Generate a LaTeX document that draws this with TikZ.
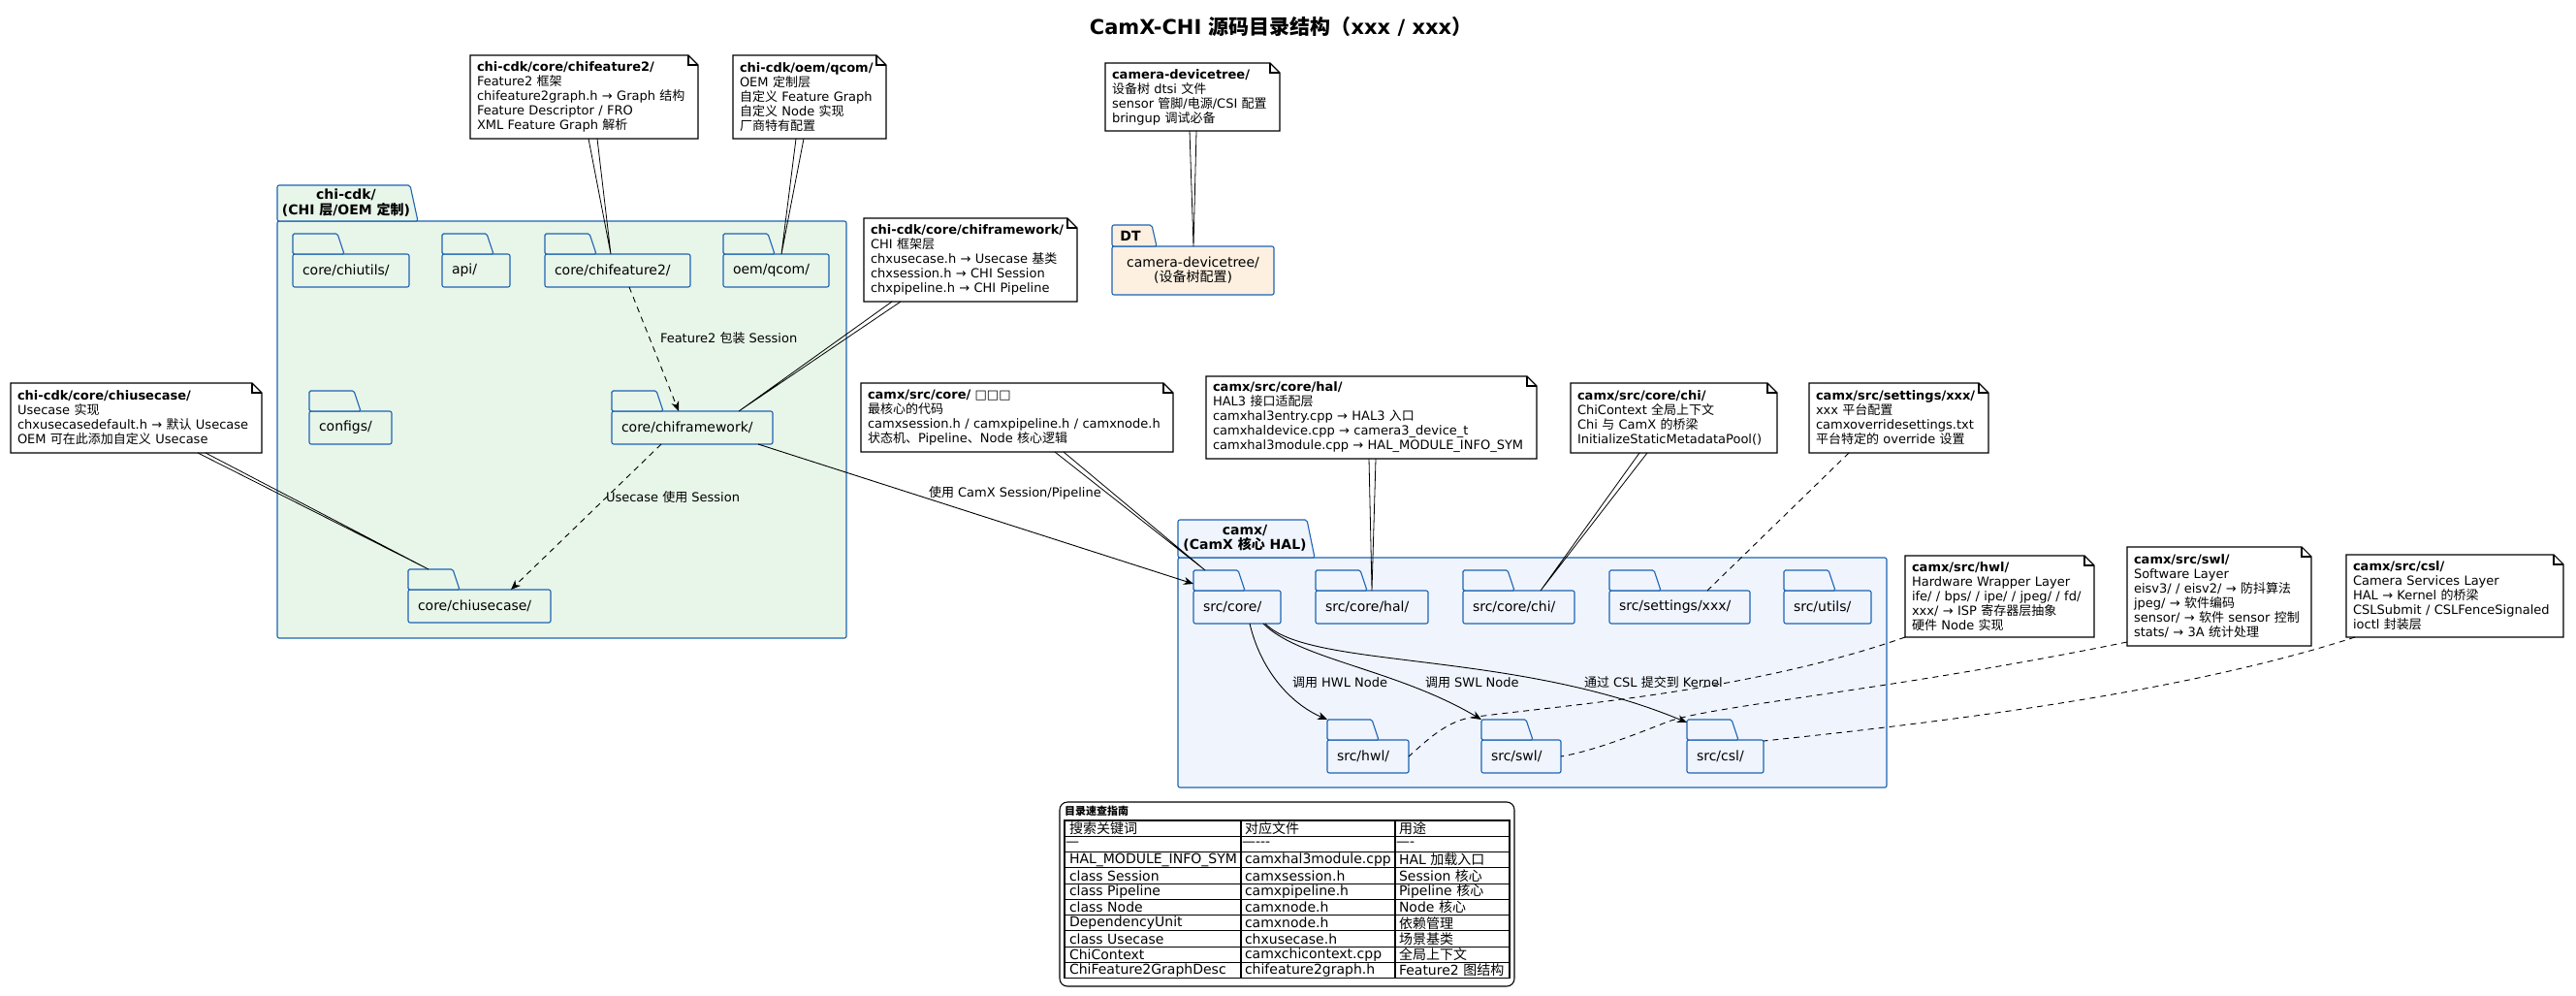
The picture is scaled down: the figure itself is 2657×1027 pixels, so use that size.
\documentclass[tikz,border=0pt]{standalone}
\usepackage{fontspec}
\setmainfont{DejaVu Sans}
\newfontfamily\cjkfont{Noto Sans CJK SC}
\usetikzlibrary{calc,arrows.meta}
% automatic switch to the CJK font for CJK characters
\XeTeXinterchartokenstate=1
\chardef\cjkcls=7
\newcount\cjkc
\cjkc="3000
\loop \XeTeXcharclass\cjkc=\cjkcls \advance\cjkc by 1 \ifnum\cjkc<"A000 \repeat
\cjkc="FF00
\loop \XeTeXcharclass\cjkc=\cjkcls \advance\cjkc by 1 \ifnum\cjkc<"FFF0 \repeat
\XeTeXinterchartoks 0 \cjkcls = {\begingroup\cjkfont}
\XeTeXinterchartoks 4095 \cjkcls = {\begingroup\cjkfont}
\XeTeXinterchartoks \cjkcls 0 = {\endgroup}
\XeTeXinterchartoks \cjkcls 4095 = {\endgroup}

\definecolor{pgreen}{HTML}{E8F5E9}
\definecolor{pblue}{HTML}{EFF4FD}
\definecolor{porange}{HTML}{FDF0E1}
\definecolor{bblue}{HTML}{1E64B4}

\tikzset{
  every node/.style={inner sep=0pt, outer sep=0pt},
  pkgline/.style={draw=bblue, line width=1.1pt},
  folderbody/.style={draw=bblue, line width=1.1pt, rounded corners=2pt, minimum height=34pt,
    inner xsep=10pt, inner ysep=0pt, align=left, font=\fontsize{14}{16}\selectfont, anchor=north west},
  notebox/.style={inner xsep=7pt, inner ysep=0pt, align=left, font=\fontsize{13}{15}\selectfont, anchor=north west},
  noteline/.style={draw=black, line width=1.1pt, line join=miter},
  wedge/.style={draw=black, line width=0.8pt},
  dconn/.style={draw=black, line width=0.9pt, dash pattern=on 6pt off 5pt},
  arr/.style={draw=black, line width=0.9pt, -{Stealth[length=10pt,width=8pt,inset=3pt]}},
  darr/.style={arr, dash pattern=on 6pt off 5pt},
  lbl/.style={font=\fontsize{13}{15}\selectfont, anchor=west},
  tablbl/.style={font=\bfseries\fontsize{14}{16.5}\selectfont, align=center},
  cell/.style={font=\fontsize{14}{16}\selectfont, anchor=west},
  gridline/.style={draw=black, line width=1.1pt},
}

\newcommand\mkfolder[6]{% name, x, body top y, width, fill, label
  \pgfmathsetmacro\fldw{#4-20}%
  \node[folderbody, fill=#5, text width=\fldw pt, minimum width=#4pt] (#1) at (#2,#3) {#6};
  \draw[pkgline, fill=#5, rounded corners=1.5pt] (#1.north west) -- ++(0,-21) -- ++(46,0) -- ++(7,21) -- cycle;
}
\newcommand\mknote[6]{% name, x, y, width, height, text
  \pgfmathsetmacro\ntw{#4-14}%
  \node[notebox, text width=\ntw pt, minimum height=#5pt] (#1) at (#2,#3) {#6};
  \draw[noteline] (#1.north west) -- ([xshift=-10pt]#1.north east) -- ([yshift=-10pt]#1.north east)
     -- (#1.south east) -- (#1.south west) -- cycle;
  \draw[noteline] ([xshift=-10pt]#1.north east) -- ([xshift=-10pt,yshift=-10pt]#1.north east) -- ([yshift=-10pt]#1.north east);
}
\newcommand\cellrow[4]{%
  \node[cell] (c#1a) at (1103,{846+16.27*(#1+0.5)}) {#2};
  \node[cell] (c#1b) at (1284,{846+16.27*(#1+0.5)}) {#3};
  \node[cell] (c#1c) at (1443,{846+16.27*(#1+0.5)}) {#4};
}

\begin{document}
\begin{tikzpicture}[x=1pt,y=-1pt]
\path[use as bounding box, fill=white] (0,0) rectangle (2657,1027);

% title
\node[font=\bfseries\fontsize{21}{24}\selectfont] (title) at (1321,28) {CamX-CHI 源码目录结构（xxx / xxx）};

% ---------- packages ----------
\node[pkgline, fill=pgreen, rounded corners=2pt, minimum width=587pt, minimum height=430pt, anchor=north west] (pchi) at (286,228) {};
\draw[pkgline, fill=pgreen, rounded corners=2pt] (pchi.north west) -- ++(0,-37) -- ++(137,0) -- ++(8,37) -- cycle;
\node[tablbl] (tchi) at (357,209) {chi-cdk/\\(CHI 层/OEM 定制)};

\node[pkgline, fill=pblue, rounded corners=2pt, minimum width=731pt, minimum height=237pt, anchor=north west] (pcamx) at (1215,575) {};
\draw[pkgline, fill=pblue, rounded corners=2pt] (pcamx.north west) -- ++(0,-39) -- ++(133,0) -- ++(8,39) -- cycle;
\node[tablbl, font=\bfseries\fontsize{14}{15.5}\selectfont] (tcamx) at (1284,555) {camx/\\(CamX 核心 HAL)};

\node[pkgline, fill=porange, rounded corners=2pt, minimum width=167pt, minimum height=50pt, anchor=north west,
      align=center, font=\fontsize{14}{15}\selectfont] (pdt) at (1147,254) {camera-devicetree/\\(设备树配置)};
\draw[pkgline, fill=porange, rounded corners=2pt] (pdt.north west) -- ++(0,-22) -- ++(41,0) -- ++(5,22) -- cycle;
\node[tablbl] (tdt) at (1166,243) {DT};

% ---------- folders ----------
\mkfolder{fchiutils}{302}{262}{120}{pgreen}{core/chiutils/}
\mkfolder{fapi}{456}{262}{70}{pgreen}{api/}
\mkfolder{ffeat}{562}{262}{150}{pgreen}{core/chifeature2/}
\mkfolder{foem}{746}{262}{109}{pgreen}{oem/qcom/}
\mkfolder{fconfigs}{319}{424}{85}{pgreen}{configs/}
\mkfolder{ffw}{631}{424}{166}{pgreen}{core/chiframework/}
\mkfolder{fuse}{421}{608}{147}{pgreen}{core/chiusecase/}

\mkfolder{score}{1231}{609}{90}{pblue}{src/core/}
\mkfolder{shal}{1357}{609}{116}{pblue}{src/core/hal/}
\mkfolder{schi}{1509}{609}{115}{pblue}{src/core/chi/}
\mkfolder{sset}{1660}{609}{145}{pblue}{src/settings/xxx/}
\mkfolder{sutil}{1840}{609}{90}{pblue}{src/utils/}
\mkfolder{shwl}{1369}{763}{84}{pblue}{src/hwl/}
\mkfolder{sswl}{1528}{763}{82}{pblue}{src/swl/}
\mkfolder{scsl}{1740}{763}{79}{pblue}{src/csl/}

% ---------- notes ----------
\mknote{nfeat}{485}{57}{235}{86}{\textbf{chi-cdk/core/chifeature2/}\\Feature2 框架\\chifeature2graph.h → Graph 结构\\Feature Descriptor / FRO\\XML Feature Graph 解析}
\mknote{noem}{756}{57}{158}{86}{\textbf{chi-cdk/oem/qcom/}\\OEM 定制层\\自定义 Feature Graph\\自定义 Node 实现\\厂商特有配置}
\mknote{ndt}{1140}{65}{180}{70}{\textbf{camera-devicetree/}\\设备树 dtsi 文件\\sensor 管脚/电源/CSI 配置\\bringup 调试必备}
\mknote{nfw}{891}{225}{220}{86}{\textbf{chi-cdk/core/chiframework/}\\CHI 框架层\\chxusecase.h → Usecase 基类\\chxsession.h → CHI Session\\chxpipeline.h → CHI Pipeline}
\mknote{nuse}{11}{395}{259}{72}{\textbf{chi-cdk/core/chiusecase/}\\Usecase 实现\\chxusecasedefault.h → 默认 Usecase\\OEM 可在此添加自定义 Usecase}
\mknote{ncore}{888}{395}{322}{71}{\textbf{camx/src/core/ □□□}\\最核心的代码\\camxsession.h / camxpipeline.h / camxnode.h\\状态机、Pipeline、Node 核心逻辑}
\mknote{nhal}{1244}{388}{341}{85}{\textbf{camx/src/core/hal/}\\HAL3 接口适配层\\camxhal3entry.cpp → HAL3 入口\\camxhaldevice.cpp → camera3\_device\_t\\camxhal3module.cpp → HAL\_MODULE\_INFO\_SYM}
\mknote{nchi}{1620}{395}{213}{72}{\textbf{camx/src/core/chi/}\\ChiContext 全局上下文\\Chi 与 CamX 的桥梁\\InitializeStaticMetadataPool()}
\mknote{nset}{1866}{395}{185}{72}{\textbf{camx/src/settings/xxx/}\\xxx 平台配置\\camxoverridesettings.txt\\平台特定的 override 设置}
\mknote{nhwl}{1965}{573}{195}{84}{\textbf{camx/src/hwl/}\\Hardware Wrapper Layer\\ife/ / bps/ / ipe/ / jpeg/ / fd/\\xxx/ → ISP 寄存器层抽象\\硬件 Node 实现}
\mknote{nswl}{2194}{564}{190}{102}{\textbf{camx/src/swl/}\\Software Layer\\eisv3/ / eisv2/ → 防抖算法\\jpeg/ → 软件编码\\sensor/ → 软件 sensor 控制\\stats/ → 3A 统计处理}
\mknote{ncsl}{2420}{572}{224}{85}{\textbf{camx/src/csl/}\\Camera Services Layer\\HAL → Kernel 的桥梁\\CSLSubmit / CSLFenceSignaled\\ioctl 封装层}

% ---------- note links (wedges) ----------
\draw[wedge] ($(nfeat.south west)+(122,0)$) -- ($(ffeat.north west)+(68,0)$) -- ($(nfeat.south west)+(131,0)$);
\draw[wedge] ($(noem.south west)+(65,0)$) -- ($(foem.north west)+(60,0)$) -- ($(noem.south west)+(73,0)$);
\draw[wedge] ($(ndt.south west)+(87,0)$) -- ($(pdt.north west)+(84,0)$) -- ($(ndt.south west)+(94,0)$);
\draw[wedge] ($(nfw.south west)+(29,0)$) -- ($(ffw.north west)+(131,0)$) -- ($(nfw.south west)+(38,0)$);
\draw[wedge] ($(nuse.south west)+(193,0)$) -- ($(fuse.north west)+(21,-21)$) -- ($(nuse.south west)+(201,0)$);
\draw[wedge] ($(ncore.south west)+(200,0)$) -- ($(score.north west)+(12,-21)$) -- ($(ncore.south west)+(209,0)$);
\draw[wedge] ($(nhal.south west)+(168,0)$) -- ($(shal.north west)+(58,0)$) -- ($(nhal.south west)+(175,0)$);
\draw[wedge] ($(nchi.south west)+(71,0)$) -- ($(schi.north west)+(80,0)$) -- ($(nchi.south west)+(79,0)$);

% ---------- dashed note links ----------
\draw[dconn] ($(nset.south west)+(41,0)$) -- ($(sset.north west)+(101,0)$);
\draw[dconn] (nhwl.south west) .. controls (1800,715) and (1600,728) .. (1516,740)
   .. controls (1490,745) and (1470,765) .. (shwl.east);
\draw[dconn] ($(nswl.south west)+(0,-4)$) .. controls (1950,712) and (1760,728) .. (1718,745)
   .. controls (1680,760) and (1640,775) .. (sswl.east);
\draw[dconn] ($(ncsl.south west)+(9,0)$) .. controls (2250,715) and (2000,745) .. ($(scsl.north east)+(0,1)$);

% ---------- arrows ----------
\draw[darr] ($(ffeat.south west)+(87,0)$) -- ($(ffw.north west)+(69,0)$);
\node[lbl] (lfeat) at (681,349) {Feature2 包装 Session};
\draw[darr] ($(ffw.south west)+(51,0)$) -- ($(fuse.north west)+(106,0)$);
\node[lbl] (luse) at (625,513) {Usecase 使用 Session};
\draw[arr] ($(ffw.south east)+(-15,0)$) -- ($(score.north west)+(0,-7)$);
\node[lbl] (lcamx) at (958,508) {使用 CamX Session/Pipeline};

\draw[arr] ($(score.south west)+(58,0)$) .. controls (1300,690) and (1330,725) .. ($(shwl.north west)+(0,-21)$);
\draw[arr] ($(score.south west)+(72,0)$) .. controls (1340,680) and (1440,690) .. ($(sswl.north west)+(0,-21)$);
\draw[arr] ($(score.south west)+(74,0)$) .. controls (1350,690) and (1560,670) .. ($(scsl.north west)+(0,-18)$);
\node[lbl] (lhwl) at (1333,704) {调用 HWL Node};
\node[lbl] (lswl) at (1470,704) {调用 SWL Node};
\node[lbl] (lcsl) at (1634,704) {通过 CSL 提交到 Kernel};

% ---------- legend table ----------
\node[draw=black, line width=1.1pt, rounded corners=8pt, minimum width=469pt, minimum height=190pt, anchor=north west] (legend) at (1093,827) {};
\node[font=\bfseries\fontsize{11}{13}\selectfont, anchor=west] (legtitle) at (1098,836) {目录速查指南};
\draw[gridline] (1098,846) rectangle (1557,1008.7);
\foreach \i in {1,...,9} { \draw[gridline] (1098,{846+16.27*\i}) -- (1557,{846+16.27*\i}); }
\draw[gridline] (1280,846) -- (1280,1008.7);
\draw[gridline] (1439,846) -- (1439,1008.7);
\cellrow{0}{搜索关键词}{对应文件}{用途}
\node[cell] (c1a) at (1099,{846+16.27*1.5}) {—};
\node[cell] (c1b) at (1281,{846+16.27*1.5}) {—-{}-{}-};
\node[cell] (c1c) at (1440,{846+16.27*1.5}) {—-};
\cellrow{2}{HAL\_MODULE\_INFO\_SYM}{camxhal3module.cpp}{HAL 加载入口}
\cellrow{3}{class Session}{camxsession.h}{Session 核心}
\cellrow{4}{class Pipeline}{camxpipeline.h}{Pipeline 核心}
\cellrow{5}{class Node}{camxnode.h}{Node 核心}
\cellrow{6}{DependencyUnit}{camxnode.h}{依赖管理}
\cellrow{7}{class Usecase}{chxusecase.h}{场景基类}
\cellrow{8}{ChiContext}{camxchicontext.cpp}{全局上下文}
\cellrow{9}{ChiFeature2GraphDesc}{chifeature2graph.h}{Feature2 图结构}
\end{tikzpicture}
\end{document}
